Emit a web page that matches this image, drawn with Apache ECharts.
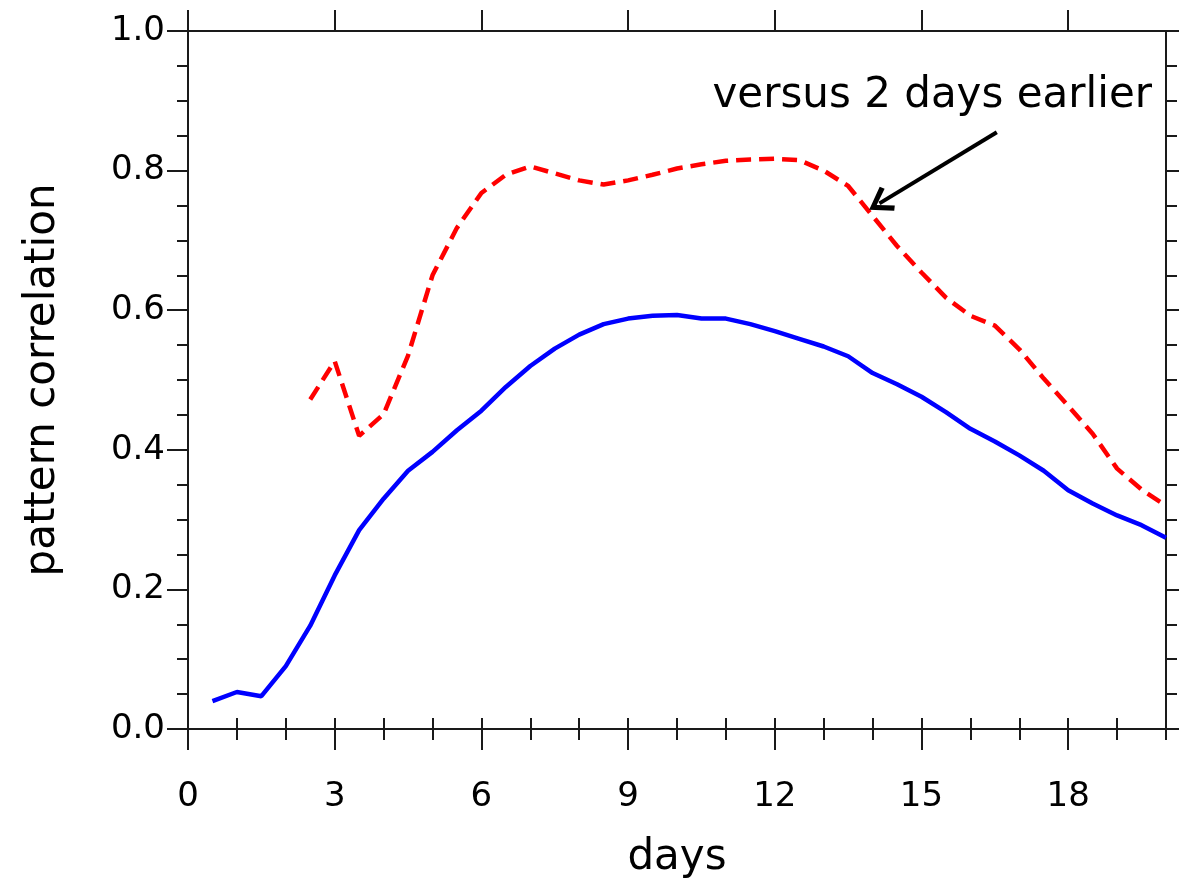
<!DOCTYPE html>
<html>
<head>
<meta charset="utf-8">
<script src="https://cdn.jsdelivr.net/npm/echarts@6/dist/echarts.min.js"></script>
<style>
  html, body { margin: 0; padding: 0; background: #fff; }
  #chart { width: 1179px; height: 884px; }
</style>
</head>
<body>
<div id="chart"></div>
<script>
const FONT = 'DejaVu Sans, sans-serif'

// forecast lead time (days)
const days = [0.5, 1, 1.5, 2, 2.5, 3, 3.5, 4, 4.5, 5, 5.5, 6, 6.5, 7, 7.5, 8, 8.5, 9, 9.5, 10,
  10.5, 11, 11.5, 12, 12.5, 13, 13.5, 14, 14.5, 15, 15.5, 16, 16.5, 17, 17.5, 18, 18.5, 19, 19.5, 20]

// solid blue curve
const corrBlue = [0.040, 0.053, 0.047, 0.090, 0.148, 0.220, 0.285, 0.330, 0.370, 0.397,
  0.428, 0.456, 0.490, 0.520, 0.545, 0.565, 0.580, 0.588, 0.592, 0.593,
  0.588, 0.588, 0.580, 0.570, 0.559, 0.548, 0.534, 0.510, 0.494, 0.476,
  0.454, 0.430, 0.412, 0.392, 0.370, 0.342, 0.323, 0.306, 0.292, 0.274]

// dashed red curve ("versus 2 days earlier"), starts at day 2.5
const corrRed = [null, null, null, null, 0.472, 0.527, 0.420, 0.451, 0.535, 0.650,
  0.718, 0.768, 0.794, 0.806, 0.796, 0.786, 0.780, 0.786, 0.794, 0.803,
  0.809, 0.814, 0.816, 0.817, 0.815, 0.800, 0.778, 0.735, 0.692, 0.654,
  0.618, 0.592, 0.578, 0.544, 0.502, 0.463, 0.423, 0.373, 0.343, 0.320]

const xMajor = [0, 3, 6, 9, 12, 15, 18]
const xMinor = [0, 1, 2, 3, 4, 5, 6, 7, 8, 9, 10, 11, 12, 13, 14, 15, 16, 17, 18, 19, 20]

const annotText = 'versus 2 days earlier'
const arrowFrom = [16.54, 0.855]
const arrowTo = [14.14, 0.753]

const AXIS = '#1a1a1a'
const axisLine = { show: true, onZero: false, lineStyle: { color: AXIS, width: 2 } }

const myChart = echarts.init(document.getElementById('chart'))

const xCommon = { type: 'value', min: 0, max: 20, splitLine: { show: false } }
const yCommon = { type: 'value', min: 0, max: 1, interval: 0.2, splitLine: { show: false } }

const options = {
  backgroundColor: '#fff',
  animation: false,
  grid: { left: 188, right: 13, top: 31, bottom: 153 },
  xAxis: [
    {
      ...xCommon,
      position: 'bottom',
      interval: 3,
      axisLine,
      axisTick: { show: true, inside: false, length: 21, customValues: xMajor, lineStyle: { color: AXIS, width: 2 } },
      axisLabel: {
        customValues: xMajor, margin: 51, color: '#000', fontSize: 34, fontFamily: FONT,
        formatter: (v) => (v === 20 ? '' : String(v)),
      },
      name: 'days',
      nameLocation: 'middle',
      nameGap: 108,
      nameTextStyle: { color: '#000', fontSize: 42, fontFamily: FONT },
    },
    {
      ...xCommon,
      position: 'bottom',
      interval: 1,
      axisLine: { show: false },
      axisTick: { show: true, inside: false, length: 11, customValues: xMinor, lineStyle: { color: AXIS, width: 2 } },
      axisLabel: { show: false },
    },
    {
      ...xCommon,
      position: 'top',
      interval: 3,
      axisLine,
      axisTick: { show: true, inside: false, length: 21, customValues: xMajor, lineStyle: { color: AXIS, width: 2 } },
      axisLabel: { show: false },
    },
    {
      ...xCommon,
      position: 'top',
      interval: 1,
      axisLine: { show: false },
      axisTick: { show: true, inside: false, length: 11, customValues: xMinor, lineStyle: { color: AXIS, width: 2 } },
      axisLabel: { show: false },
    },
  ],
  yAxis: [
    {
      ...yCommon,
      position: 'left',
      axisLine,
      axisTick: { show: true, inside: false, length: 21, lineStyle: { color: AXIS, width: 2 } },
      minorTick: { show: true, splitNumber: 4, length: 11, lineStyle: { color: AXIS, width: 2 } },
      axisLabel: { margin: 23, color: '#000', fontSize: 34, fontFamily: FONT, formatter: (v) => v.toFixed(1) },
      name: 'pattern correlation',
      nameLocation: 'middle',
      nameGap: 124,
      nameTextStyle: { color: '#000', fontSize: 42, fontFamily: FONT },
    },
    {
      ...yCommon,
      position: 'right',
      axisLine,
      axisTick: { show: true, inside: false, length: 21, lineStyle: { color: AXIS, width: 2 } },
      minorTick: { show: true, splitNumber: 4, length: 11, lineStyle: { color: AXIS, width: 2 } },
      axisLabel: { show: false },
    },
  ],
  series: [
    {
      type: 'line',
      xAxisIndex: 0,
      yAxisIndex: 0,
      data: days.map((d, i) => [d, corrBlue[i]]),
      showSymbol: false,
      symbol: 'none',
      lineStyle: { color: '#0000ff', width: 4.5 },
      z: 3,
    },
    {
      type: 'line',
      xAxisIndex: 0,
      yAxisIndex: 0,
      data: days.map((d, i) => [d, corrRed[i]]),
      connectNulls: false,
      showSymbol: false,
      symbol: 'none',
      lineStyle: { color: '#ff0000', width: 4.5, type: [15, 8] },
      z: 3,
      markLine: {
        silent: true,
        animation: false,
        symbol: ['none', 'path://M10,0 L20,13 L17,15 L10,5.5 L3,15 L0,13 Z'],
        symbolSize: [28, 24],
        label: { show: false },
        lineStyle: { color: '#000', width: 4, type: 'solid' },
        itemStyle: { color: '#000' },
        emphasis: { disabled: true },
        data: [[{ coord: arrowFrom }, { coord: arrowTo }]],
      },
    },
  ],
  graphic: [
    {
      type: 'text',
      x: 1152,
      y: 96,
      style: {
        text: annotText,
        font: '42px ' + FONT,
        fill: '#000',
        align: 'right',
        verticalAlign: 'middle',
        textAlign: 'right',
        textVerticalAlign: 'middle',
      },
    },
  ],
}

myChart.setOption(options)
</script>
</body>
</html>
